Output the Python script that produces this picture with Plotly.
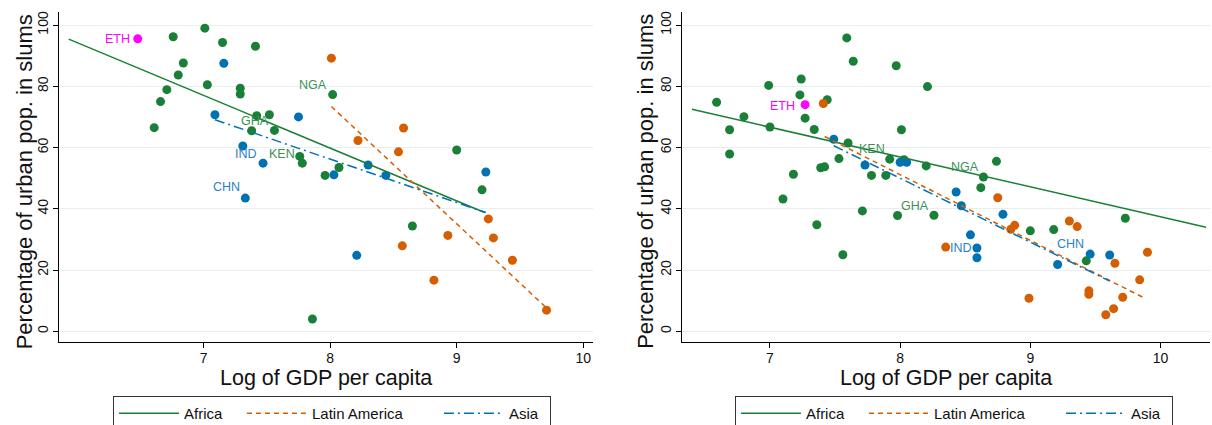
import plotly.graph_objects as go
from plotly.subplots import make_subplots

GREEN = "#1a7f37"
ORANGE = "#d55e00"
BLUE = "#0072b2"
MAGENTA = "#ff00ff"
GREEN_TXT = "#3c9157"
BLUE_TXT = "#2b82c4"

# ---------------- Panel 1 data ----------------
p1_afr_x = [6.76, 7.01, 7.15, 7.41, 6.84, 6.80, 6.71, 7.03, 7.29, 7.29, 6.66, 6.61,
            7.42, 7.52, 7.38, 7.56, 7.76, 7.78, 7.96, 8.07, 8.02, 9.00, 9.20, 8.65, 7.86]
p1_afr_y = [96.2, 99.0, 94.3, 93.1, 87.6, 83.7, 78.9, 80.5, 79.4, 77.5, 75.0, 66.5,
            70.4, 70.7, 65.5, 65.6, 57.1, 54.9, 50.9, 53.5, 77.3, 59.2, 46.2, 34.4, 4.0]
p1_lat_x = [8.01, 8.22, 8.58, 8.54, 9.25, 9.29, 8.93, 8.57, 9.44, 8.82, 9.71]
p1_lat_y = [89.2, 62.3, 66.4, 58.6, 36.7, 30.5, 31.3, 27.9, 23.2, 16.7, 6.9]
p1_asia_x = [7.16, 7.09, 7.31, 7.47, 7.33, 7.75, 8.03, 8.30, 8.44, 9.23, 8.21]
p1_asia_y = [87.5, 70.7, 60.5, 54.9, 43.5, 70.0, 51.1, 54.3, 50.9, 52.0, 24.8]
p1_eth_x = [6.48]
p1_eth_y = [95.5]

# fitted lines (endpoints)
p1_fit_afr_x = [5.935, 9.22]
p1_fit_afr_y = [95.4, 38.8]
p1_fit_lat_x = [8.01, 9.70]
p1_fit_lat_y = [73.4, 8.0]
p1_fit_asia_x = [7.09, 9.23]
p1_fit_asia_y = [69.1, 38.8]

# country labels: (text, right-edge x, y, colour key)
p1_labels = [("ETH", 6.433, 95.5, "eth"), ("NGA", 7.993, 80.5, "afr"),
             ("GHA", 7.53, 68.7, "afr"), ("IND", 7.44, 57.9, "asia"),
             ("KEN", 7.74, 57.9, "afr"), ("CHN", 7.30, 47.1, "asia")]

# ---------------- Panel 2 data ----------------
p2_afr_x = [6.59, 6.69, 6.69, 6.80, 6.99, 7.00, 7.18, 7.24, 7.23, 7.44, 7.27, 7.34,
            7.59, 7.64, 7.97, 8.21, 7.60, 7.53, 7.39, 7.42, 7.78, 7.89, 7.92, 8.01,
            8.03, 8.20, 7.10, 7.36, 7.56, 7.71, 7.98, 8.26, 8.74, 8.64, 8.62, 9.00,
            9.18, 9.43, 9.73]
p2_afr_y = [74.8, 65.8, 57.9, 70.1, 80.3, 66.7, 51.3, 82.4, 77.2, 75.6, 69.6, 65.9,
            95.8, 88.2, 86.7, 79.9, 61.5, 56.4, 53.4, 53.7, 50.9, 50.9, 56.2, 65.8,
            56.0, 54.0, 43.2, 34.8, 25.0, 39.3, 37.8, 37.9, 55.5, 50.4, 46.9, 32.8,
            33.2, 23.0, 36.9]
p2_lat_x = [7.41, 8.75, 8.88, 8.85, 8.35, 8.99, 9.30, 9.36, 9.45, 9.45, 9.65, 9.58,
            9.64, 9.71, 9.84, 9.90]
p2_lat_y = [74.4, 43.6, 34.6, 33.3, 27.5, 10.8, 36.0, 34.2, 13.2, 12.1, 22.2, 5.4,
            7.4, 11.1, 16.8, 25.8]
p2_asia_x = [7.49, 7.73, 8.00, 8.05, 8.43, 8.47, 8.79, 8.54, 8.59, 8.59, 9.21, 9.46, 9.61]
p2_asia_y = [62.7, 54.3, 55.2, 55.2, 45.5, 41.0, 38.2, 31.5, 27.2, 24.0, 21.8, 25.2, 24.9]
p2_eth_x = [7.27]
p2_eth_y = [74.0]

p2_fit_afr_x = [6.40, 10.35]
p2_fit_afr_y = [72.5, 34.0]
p2_fit_lat_x = [7.42, 9.87]
p2_fit_lat_y = [63.6, 11.0]
p2_fit_asia_x = [7.49, 9.61]
p2_fit_asia_y = [60.6, 16.4]

p2_labels = [("ETH", 7.21, 73.7, "eth"), ("KEN", 7.896, 59.5, "afr"),
             ("NGA", 8.625, 53.5, "afr"), ("GHA", 8.236, 41.0, "afr"),
             ("IND", 8.568, 27.3, "asia"), ("CHN", 9.43, 28.4, "asia")]

y_ticks = [0, 20, 40, 60, 80, 100]
x_ticks = [7, 8, 9, 10]
x_title = "Log of GDP per capita"
y_title = "Percentage of urban pop. in slums"

FONT = "Liberation Sans, Arial, sans-serif"
LABEL_COL = {"eth": MAGENTA, "afr": GREEN_TXT, "asia": BLUE_TXT}
# legend entry widths (px) so the three keys are spaced like Stata's legend
LEG_W = {"Africa": 53, "Latin America": 122, "Asia": 36}

fig = make_subplots(rows=1, cols=2)


def add_panel(col, legend, afr, lat, asia, eth, fa, fl, fs, labels):
    for (xs, ys), c in ((afr, GREEN), (lat, ORANGE), (asia, BLUE), (eth, MAGENTA)):
        fig.add_trace(go.Scatter(x=xs, y=ys, mode="markers", showlegend=False,
                                 marker=dict(color=c, size=9, line=dict(width=0))),
                      row=1, col=col)
    fig.add_trace(go.Scatter(x=fa[0], y=fa[1], mode="lines", name="Africa",
                             legend=legend, legendwidth=LEG_W["Africa"],
                             line=dict(color=GREEN, width=1.5)),
                  row=1, col=col)
    fig.add_trace(go.Scatter(x=fl[0], y=fl[1], mode="lines", name="Latin America",
                             legend=legend, legendwidth=LEG_W["Latin America"],
                             line=dict(color=ORANGE, width=1.5, dash="5px,4px")),
                  row=1, col=col)
    fig.add_trace(go.Scatter(x=fs[0], y=fs[1], mode="lines", name="Asia",
                             legend=legend, legendwidth=LEG_W["Asia"],
                             line=dict(color=BLUE, width=1.5, dash="10px,4px,2px,4px")),
                  row=1, col=col)
    xref = "x" if col == 1 else "x2"
    yref = "y" if col == 1 else "y2"
    for txt, lx, ly, key in labels:
        fig.add_annotation(x=lx, y=ly, xref=xref, yref=yref, text=txt,
                           showarrow=False, xanchor="right", yanchor="middle",
                           font=dict(size=12.5, color=LABEL_COL[key], family=FONT))


add_panel(1, "legend", (p1_afr_x, p1_afr_y), (p1_lat_x, p1_lat_y),
          (p1_asia_x, p1_asia_y), (p1_eth_x, p1_eth_y),
          (p1_fit_afr_x, p1_fit_afr_y), (p1_fit_lat_x, p1_fit_lat_y),
          (p1_fit_asia_x, p1_fit_asia_y), p1_labels)
add_panel(2, "legend2", (p2_afr_x, p2_afr_y), (p2_lat_x, p2_lat_y),
          (p2_asia_x, p2_asia_y), (p2_eth_x, p2_eth_y),
          (p2_fit_afr_x, p2_fit_afr_y), (p2_fit_lat_x, p2_fit_lat_y),
          (p2_fit_asia_x, p2_fit_asia_y), p2_labels)

# rotated y-axis titles
for xpos in (0.0205, 0.5325):
    fig.add_annotation(x=xpos, y=0.573, xref="paper", yref="paper", text=y_title,
                       textangle=-90, showarrow=False, xanchor="center",
                       yanchor="middle",
                       font=dict(size=22, color="#111", family=FONT))

xaxis_common = dict(tickvals=x_ticks, showgrid=False, zeroline=False,
                    showline=True, linecolor="black", linewidth=1.3,
                    ticks="outside", ticklen=5, tickcolor="black",
                    ticklabelstandoff=-2,
                    tickfont=dict(size=14, color="#111", family=FONT),
                    title=dict(text=x_title, standoff=2,
                               font=dict(size=21.5, color="#111", family=FONT)))
yaxis_common = dict(tickvals=y_ticks, range=[-3.4, 104.3], showgrid=True,
                    gridcolor="#e6eef0", gridwidth=1, zeroline=False,
                    showline=True, linecolor="black", linewidth=1.3,
                    ticks="outside", ticklen=5, tickcolor="black", tickangle=-90,
                    tickfont=dict(size=14, color="#111", family=FONT))

legend_common = dict(orientation="h", xanchor="left", yanchor="top",
                     bordercolor="#333", borderwidth=1, bgcolor="white",
                     font=dict(size=15, color="#111", family=FONT), itemwidth=60)

fig.update_layout(
    width=1212, height=425,
    margin=dict(l=0, r=0, t=0, b=0, autoexpand=False),
    paper_bgcolor="white", plot_bgcolor="white",
    font=dict(family=FONT, color="#111"),
    xaxis=dict(xaxis_common, domain=[0.0489, 0.4893], range=[5.86, 10.077],
               automargin=False),
    xaxis2=dict(xaxis_common, domain=[0.563, 0.9983], range=[6.327, 10.38],
                automargin=False),
    yaxis=dict(yaxis_common, domain=[0.196, 0.972], automargin=False),
    yaxis2=dict(yaxis_common, domain=[0.196, 0.972], automargin=False),
    legend=dict(legend_common, x=0.0932, y=0.068),
    legend2=dict(legend_common, x=0.6064, y=0.068),
)

fig.write_html("out.html")
